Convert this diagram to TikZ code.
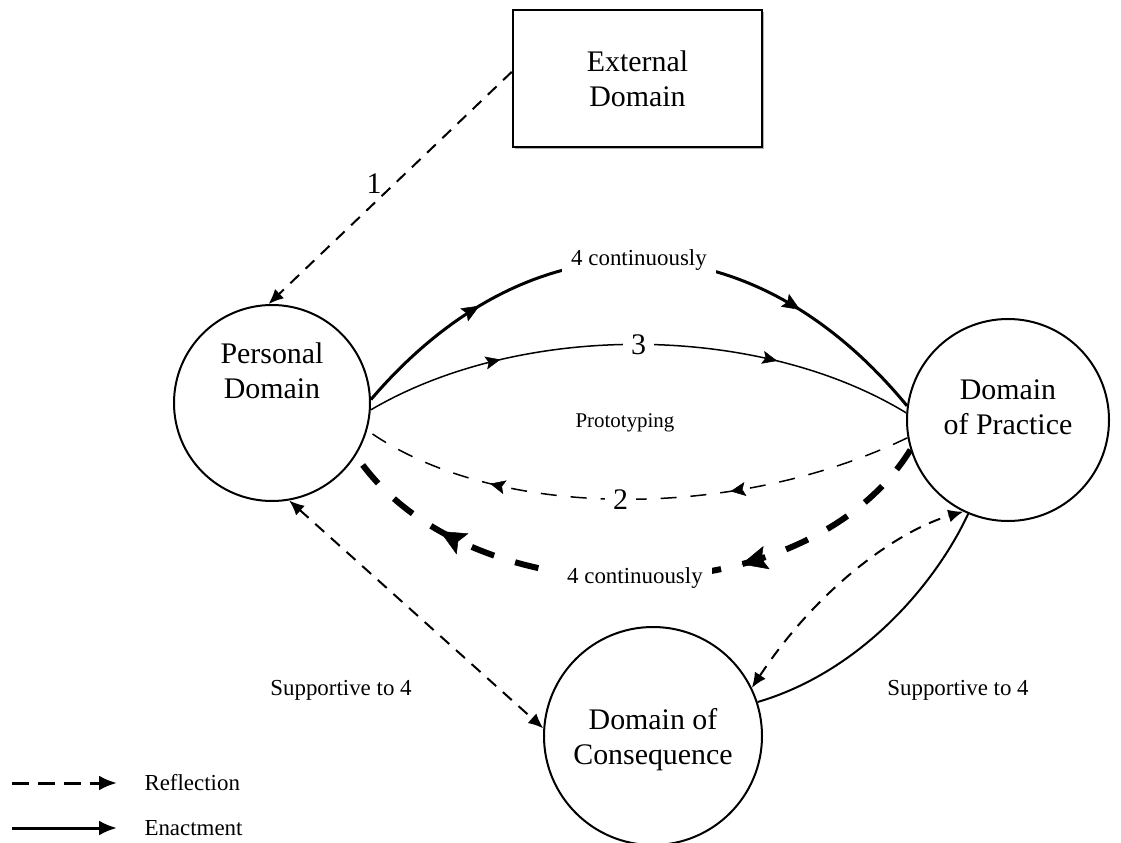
\documentclass[tikz,border=0pt]{standalone}
\usepackage{fontspec}
\setmainfont{Liberation Serif}
\usetikzlibrary{arrows.meta,decorations.markings,shadows}
\begin{document}
\begin{tikzpicture}[x=1bp,y=-1bp,
  domnode/.style={circle,draw,line width=2bp,inner sep=0pt},
  bigtext/.style={font=\fontsize{30}{35}\selectfont},
  midtext/.style={font=\fontsize{23}{27}\selectfont},
  smalltext/.style={font=\fontsize{21}{25}\selectfont},
  refl/.style={line width=2bp,dash pattern=on 12bp off 9bp},
  enact/.style={line width=2bp},
  tipL/.style={-{Latex[length=15bp,width=13bp]}},
  tipLL/.style={{Latex[length=15bp,width=13bp]}-{Latex[length=15bp,width=13bp]}},
  midarrows/.style n args={3}{postaction={decorate,decoration={markings,
      mark=at position #1 with {\arrow{#3}},
      mark=at position #2 with {\arrow{#3}}}}},
]
\useasboundingbox (0,0) rectangle (1121,843);

% the four domains
\node[domnode, minimum size=196bp,
      label={[bigtext, align=center, yshift=32bp]center:{Personal\\Domain}}] (pd) at (272,403) {};
\node[domnode, minimum size=202bp,
      label={[bigtext, align=center, yshift=13bp]center:{Domain\\of Practice}}] (dop) at (1008,420) {};
\node[domnode, minimum size=218bp,
      label={[bigtext, align=center, yshift=-4bp]center:{Domain of\\Consequence}}] (doc) at (653,736) {};
\node[draw, line width=2.5bp, fill=white, minimum width=249bp, minimum height=137bp,
      align=center, bigtext,
      drop shadow={shadow xshift=2bp,shadow yshift=-2bp,fill=black!60}] (ext) at (637.5,78.5) {External\\Domain};

% 1: external -> personal
\draw[refl, tipL] (ext.177) -- (pd.92) node[pos=0.5, bigtext, xshift=-16bp, yshift=4bp] {1};

% 4 continuously (enactment, upper)
\draw[line width=3bp, midarrows={0.23}{0.77}{Stealth[length=18bp,width=15bp,inset=3bp,line width=0.5bp]}]
  (pd.2) .. controls (530,213) and (748,213) .. (dop.172)
  node[pos=0.5, fill=white, midtext, inner sep=9bp] {4 continuously};

% 3
\draw[line width=1.5bp, midarrows={0.25}{0.75}{Stealth[length=15bp,width=13bp,inset=3bp,line width=0.5bp]}]
  (pd.-4) .. controls (520,322) and (757,322) .. (dop.176)
  node[pos=0.5, fill=white, bigtext, inner sep=8bp] {3};

\node[smalltext] (proto) at (625,423) {Prototyping};

% 2 (reflection back)
\draw[line width=1.5bp, dash pattern=on 16bp off 14bp,
      midarrows={0.33}{0.76}{Stealth[length=15bp,width=14bp,inset=3bp,line width=0.5bp]}]
  (dop.190) .. controls (735,521) and (495,521) .. (pd.-16)
  node[pos=0.5, fill=white, bigtext, inner sep=8bp] {2};

% 4 continuously (reflection, lower)
\draw[line width=6bp, dash pattern=on 24bp off 22bp,
      midarrows={0.33}{0.82}{Stealth[length=26bp,width=24bp,inset=5bp,line width=0.5bp]}]
  (dop.197) .. controls (805,620) and (466,620) .. (pd.-32)
  node[pos=0.5, fill=white, midtext, inner sep=9bp] {4 continuously};

% consequence links
\draw[refl, tipLL] (pd.-80) -- (doc.176);
\draw[refl, tipLL] (doc.26) .. controls (820,585) and (900,530) .. (dop.-116);
\draw[enact] (doc.18) .. controls (860,672) and (935,585) .. (dop.-113);

\node[midtext] (supl) at (341,690) {Supportive to 4};
\node[midtext] (supr) at (958,690) {Supportive to 4};

% legend
\node[midtext, anchor=west] (lrefl) at (141,783) {Reflection};
\node[midtext, anchor=west] (lenact) at (141,828) {Enactment};
\coordinate (lr0) at (12,783);
\coordinate (le0) at (12,828);
\draw[line width=3bp, dash pattern=on 17bp off 9bp, -{Latex[length=18bp,width=15bp]}, shorten >=24bp] (lr0) -- (lrefl.west);
\draw[line width=3bp, -{Latex[length=18bp,width=15bp]}, shorten >=24bp] (le0) -- (lenact.west);
\end{tikzpicture}
\end{document}
